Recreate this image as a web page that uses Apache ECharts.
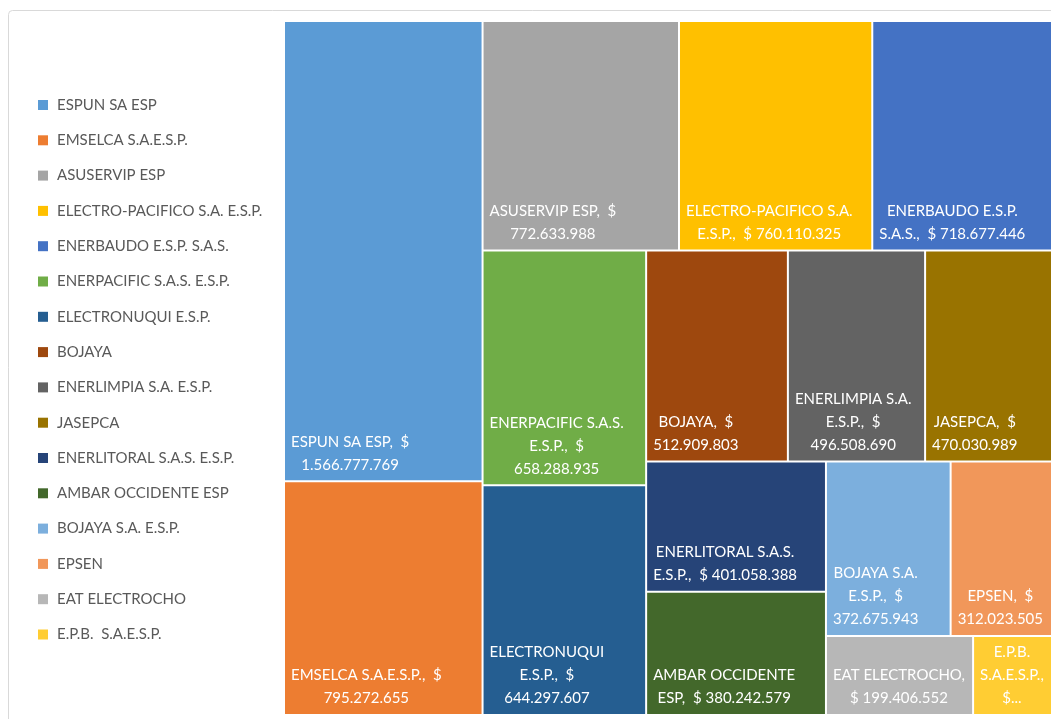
<!DOCTYPE html>
<html>
<head>
<meta charset="utf-8">
<script src="https://cdn.jsdelivr.net/npm/echarts@6/dist/echarts.min.js"></script>
<style>
  html, body { margin: 0; padding: 0; background: #fff; }
  #chart { width: 1051px; height: 719px; }
</style>
</head>
<body>
<div id="chart"></div>
<script>
const companies = [
  'ESPUN SA ESP', 'EMSELCA S.A.E.S.P.', 'ASUSERVIP ESP', 'ELECTRO-PACIFICO S.A. E.S.P.',
  'ENERBAUDO E.S.P. S.A.S.', 'ENERPACIFIC S.A.S. E.S.P.', 'ELECTRONUQUI E.S.P.', 'BOJAYA',
  'ENERLIMPIA S.A. E.S.P.', 'JASEPCA', 'ENERLITORAL S.A.S. E.S.P.', 'AMBAR OCCIDENTE ESP',
  'BOJAYA S.A. E.S.P.', 'EPSEN', 'EAT ELECTROCHO', 'E.P.B.  S.A.E.S.P.'
]
const amounts = [
  1566777769, 795272655, 772633988, 760110325,
  718677446, 658288935, 644297607, 512909803,
  496508690, 470030989, 401058388, 380242579,
  372675943, 312023505, 199406552, 111000000
]
const colors = [
  '#5b9bd5', '#ed7d31', '#a5a5a5', '#ffc000',
  '#4472c4', '#70ad47', '#255e91', '#9e480e',
  '#636363', '#997300', '#264478', '#43682b',
  '#7cafdd', '#f1975a', '#b7b7b7', '#ffcd33'
]
// how many boxes Excel put in each strip, in order (the strips alternate column / row)
const stripSizes = [2, 3, 2, 3, 2, 2, 2]
// words per label line, as Excel wrapped them (fewer words than the label has = cut with "...")
const labelLineWords = [
  [4, 1], [3, 1], [3, 1], [2, 3],
  [2, 3], [2, 2, 1], [1, 2, 1], [2, 1],
  [2, 2, 1], [2, 1], [2, 3], [2, 3],
  [2, 2, 1], [2, 1], [2, 2], [1, 1, 1]
]

const FONT = 'Lato, "Open Sans", sans-serif'
const LABEL_SIZE = 15
const LABEL_PAD = 6

function money(v) {
  return String(v).replace(/\B(?=(\d{3})+(?!\d))/g, '.')
}

function labelLines(i) {
  const words = (companies[i] + ', $ ' + money(amounts[i])).split(/\s+/)
  let k = 0
  const lines = labelLineWords[i].map(n => {
    const line = words.slice(k, k + n).join(' ').replace(', $', ',  $')
    k += n
    return line
  })
  if (k < words.length) lines[lines.length - 1] += '...'
  return lines
}

const measureCtx = document.createElement('canvas').getContext('2d')
measureCtx.font = LABEL_SIZE + 'px ' + FONT
function blockWidth(lines) {
  return Math.max(...lines.map(l => measureCtx.measureText(l).width))
}

const leaves = companies.map((n, i) => {
  const lines = labelLines(i)
  return {
    name: n,
    value: amounts[i],
    itemStyle: { color: colors[i] },
    // Excel keeps the text block at the left and centres its lines inside it
    label: { position: [LABEL_PAD + blockWidth(lines) / 2, '100%'] },
    lines: lines
  }
})

// nest the strips so the treemap cuts them off one by one, like Excel does
function buildStrips(items, sizes) {
  const n = sizes[0]
  const rest = sizes.slice(1)
  const strip = { name: '', children: items.slice(0, n) }
  const remaining = items.slice(n)
  if (!rest.length) return [strip]
  if (rest.length === 1) return [strip, { name: '', children: remaining }]
  return [strip, { name: '', children: buildStrips(remaining, rest) }]
}

const chart = echarts.init(document.getElementById('chart'))
chart.setOption({
  animation: false,
  graphic: [{
    type: 'rect',
    shape: { x: 8.5, y: 10.5, width: 1100, height: 800, r: 4 },
    style: { fill: 'none', stroke: '#d9d9d9', lineWidth: 1 },
    silent: true
  }],
  legend: {
    orient: 'vertical',
    left: 33,
    top: 92,
    itemWidth: 10,
    itemHeight: 10,
    itemGap: 19.3,
    icon: 'rect',
    data: companies,
    textStyle: { color: '#595959', fontSize: 15, fontFamily: FONT, lineHeight: 16, padding: [0, 0, 0, 4] }
  },
  series: [
    {
      // only feeds the legend with the colours
      type: 'pie',
      radius: 0,
      center: [-200, -200],
      silent: true,
      label: { show: false },
      labelLine: { show: false },
      data: companies.map((n, i) => ({ name: n, value: amounts[i], itemStyle: { color: colors[i] } }))
    },
    {
      type: 'treemap',
      left: 285,
      top: 22,
      width: 769,
      height: 692,
      roam: false,
      nodeClick: false,
      squareRatio: 1,
      sort: false,
      breadcrumb: { show: false },
      itemStyle: { borderWidth: 0, gapWidth: 2, borderColor: '#fff' },
      upperLabel: { show: false },
      label: {
        show: true,
        align: 'center',
        verticalAlign: 'bottom',
        color: '#fff',
        fontSize: LABEL_SIZE,
        fontFamily: FONT,
        lineHeight: 23,
        padding: [0, 0, 4, 0],
        formatter: p => (p.data.lines || []).join('\n')
      },
      data: buildStrips(leaves, stripSizes)
    }
  ]
})
</script>
</body>
</html>
